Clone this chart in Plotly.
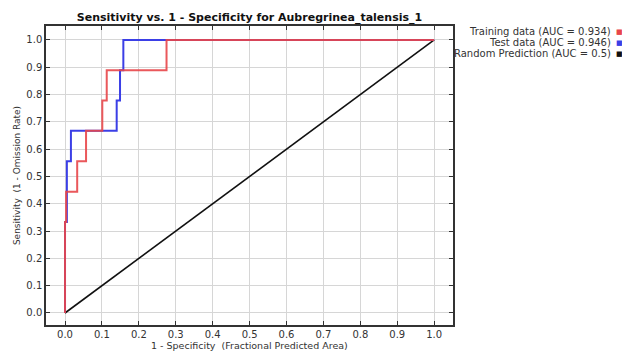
import plotly.graph_objects as go

# Data
train_fpr = [0.0, 0.0, 0.003, 0.003, 0.033, 0.033, 0.057, 0.057, 0.101, 0.101, 0.113, 0.113, 0.275, 0.275, 1.0]
train_tpr = [0.0, 0.333, 0.333, 0.444, 0.444, 0.556, 0.556, 0.667, 0.667, 0.778, 0.778, 0.889, 0.889, 1.0, 1.0]
test_fpr = [0.0, 0.0, 0.005, 0.005, 0.016, 0.016, 0.14, 0.14, 0.149, 0.149, 0.158, 0.158, 1.0]
test_tpr = [0.0, 0.333, 0.333, 0.556, 0.556, 0.667, 0.667, 0.778, 0.778, 0.889, 0.889, 1.0, 1.0]
rand_x = [0.0, 1.0]
rand_y = [0.0, 1.0]
legend_labels = ["Training data (AUC = 0.934)", "Test data (AUC = 0.946)", "Random Prediction (AUC = 0.5)"]
colors = ["#e8464a", "#3b3fe6", "#111111"]
ticks = [0.0, 0.1, 0.2, 0.3, 0.4, 0.5, 0.6, 0.7, 0.8, 0.9, 1.0]
x_title = "1 - Specificity  (Fractional Predicted Area)"
y_title = "Sensitivity  (1 - Omission Rate)"
title = "Sensitivity vs. 1 - Specificity for Aubregrinea_talensis_1"

font = "DejaVu Sans, Verdana, sans-serif"

fig = go.Figure()
fig.add_trace(go.Scatter(x=rand_x, y=rand_y, mode="lines", line=dict(color=colors[2], width=1.6), name=legend_labels[2]))
fig.add_trace(go.Scatter(x=test_fpr, y=test_tpr, mode="lines", line=dict(color=colors[1], width=2), name=legend_labels[1]))
fig.add_trace(go.Scatter(x=train_fpr, y=train_tpr, mode="lines", line=dict(color=colors[0], width=2), opacity=0.9, name=legend_labels[0]))

axis_common = dict(
    showgrid=True, gridcolor="#d6d6d6", gridwidth=1,
    showline=True, linecolor="#333333", linewidth=1.5, mirror="ticks",
    ticks="inside", ticklen=4, tickcolor="#333333",
    tickvals=ticks, tickformat=".1f", zeroline=False, automargin=False,
    tickfont=dict(family=font, size=10, color="#333333"),
)

fig.update_layout(
    width=622, height=351,
    margin=dict(l=46, r=169, t=26, b=26),
    paper_bgcolor="white", plot_bgcolor="white",
    showlegend=False,
    font=dict(family=font, color="#222222"),
    title=dict(text="<b>" + title + "</b>",
               x=(46 + 453) / 2 / 622, xanchor="center", y=1 - 17 / 351, yanchor="middle",
               font=dict(family=font, size=11, color="#111111")),
    xaxis=dict(axis_common, range=[-0.0515, 1.051], ticklabelstandoff=-1),
    yaxis=dict(axis_common, range=[-0.044, 1.051],
               title=dict(text=y_title, font=dict(family=font, size=9, color="#333333"), standoff=4)),
)

fig.add_annotation(
    xref="paper", yref="paper", x=0.5, xanchor="center",
    y=-(345.5 - 325) / (325 - 26), yanchor="middle",
    text=x_title, showarrow=False, font=dict(family=font, size=9.5, color="#333333"))

for i, lab in enumerate(legend_labels):
    yc = 32 + 11 * i
    fig.add_annotation(
        xref="paper", yref="paper", x=1 + (612 - 453) / (453 - 46), xanchor="right",
        y=1 - (yc - 26) / (325 - 26), yanchor="middle", borderpad=0,
        text=lab, showarrow=False, font=dict(family=font, size=10, color="#333333"))
    fig.add_annotation(
        xref="paper", yref="paper", x=1 + (619 - 453) / (453 - 46), xanchor="center",
        y=1 - (yc - 26) / (325 - 26), yanchor="middle", borderpad=0,
        text="■", showarrow=False, font=dict(family=font, size=7, color=colors[i]))

fig.write_html("out.html")
